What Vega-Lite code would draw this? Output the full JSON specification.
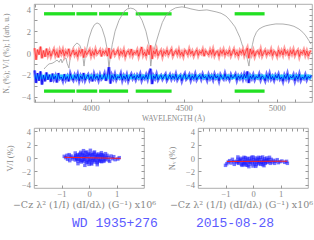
{
  "$schema": "https://vega.github.io/schema/vega-lite/v6.json",
  "padding": {"left": 1, "top": 3, "right": 0, "bottom": 0},
  "bounds": "flush",
  "spacing": 26,
  "config": {
    "view": {"stroke": "#999", "strokeWidth": 0.8},
    "axis": {"labelFont": "Liberation Serif", "titleFont": "Liberation Serif", "labelColor": "#888", "titleColor": "#888", "tickColor": "#999", "domain": false, "grid": false, "labelFontSize": 8.5, "titleFontSize": 7.5, "titleFontWeight": "normal", "labelOverlap": false, "labelFlush": false, "tickSize": -3}
  },
  "datasets": {
    "green": [
      {"a": 3749, "b": 3916, "y": 3.6}, {"a": 3923, "b": 4035, "y": 3.6}, {"a": 4045, "b": 4201, "y": 3.6}, {"a": 4242, "b": 4435, "y": 3.6}, {"a": 4774, "b": 4935, "y": 3.6},
      {"a": 3749, "b": 3916, "y": -3.5}, {"a": 3923, "b": 4035, "y": -3.5}, {"a": 4045, "b": 4201, "y": -3.5}, {"a": 4242, "b": 4435, "y": -3.5}, {"a": 4774, "b": 4935, "y": -3.5}
    ],
    "cyan": [{"w": 3698, "lo": -2.42, "hi": -1.98}, {"w": 5186, "lo": -2.42, "hi": -1.98}],
    "gray": [
      {"w":3749,"i":-1.47},{"w":3760,"i":-1.25},{"w":3776,"i":-1.0},{"w":3792,"i":-0.95},{"w":3803,"i":-0.85},{"w":3819,"i":-0.65},{"w":3830,"i":-0.85},{"w":3840,"i":-0.56},{"w":3846,"i":-0.9},{"w":3856,"i":-0.55},{"w":3867,"i":-0.46},{"w":3873,"i":-0.95},{"w":3883,"i":-1.38},{"w":3888,"i":-0.7},{"w":3899,"i":0.2},{"w":3910,"i":0.65},{"w":3926,"i":0.92},{"w":3942,"i":0.7},{"w":3953,"i":0.1},{"w":3959,"i":-0.5},{"w":3964,"i":-1.2},{"w":3969,"i":-0.5},{"w":3980,"i":0.5},{"w":3991,"i":1.38},{"w":4007,"i":2.2},{"w":4020,"i":2.6},{"w":4034,"i":2.76},{"w":4048,"i":2.65},{"w":4061,"i":2.25},{"w":4077,"i":1.38},{"w":4088,"i":0.4},{"w":4093,"i":-0.4},{"w":4098,"i":-1.38},{"w":4104,"i":-0.5},{"w":4116,"i":0.8},{"w":4131,"i":2.0},{"w":4152,"i":3.0},{"w":4179,"i":3.8},{"w":4197,"i":4.05},{"w":4215,"i":4.12},{"w":4232,"i":4.05},{"w":4249,"i":3.8},{"w":4276,"i":3.0},{"w":4297,"i":2.0},{"w":4313,"i":0.8},{"w":4319,"i":-0.3},{"w":4323,"i":-1.2},{"w":4328,"i":-0.5},{"w":4340,"i":0.2},{"w":4352,"i":1.0},{"w":4367,"i":1.85},{"w":4385,"i":2.8},{"w":4403,"i":3.4},{"w":4430,"i":3.9},{"w":4457,"i":4.15},{"w":4491,"i":4.24},{"w":4518,"i":4.15},{"w":4539,"i":4.05},{"w":4582,"i":3.9},{"w":4625,"i":3.96},{"w":4674,"i":3.78},{"w":4701,"i":3.65},{"w":4727,"i":3.4},{"w":4744,"i":3.1},{"w":4760,"i":2.76},{"w":4776,"i":2.4},{"w":4787,"i":2.0},{"w":4803,"i":1.4},{"w":4813,"i":0.83},{"w":4824,"i":0.3},{"w":4835,"i":-0.1},{"w":4843,"i":-0.6},{"w":4851,"i":-1.2},{"w":4856,"i":-0.5},{"w":4862,"i":0.0},{"w":4870,"i":0.8},{"w":4878,"i":1.4},{"w":4891,"i":1.9},{"w":4905,"i":2.2},{"w":4926,"i":2.4},{"w":4942,"i":2.5},{"w":4969,"i":2.6},{"w":4996,"i":2.67},{"w":5034,"i":2.66},{"w":5066,"i":2.58},{"w":5093,"i":2.45},{"w":5120,"i":2.2},{"w":5141,"i":1.9},{"w":5157,"i":1.57},{"w":5173,"i":1.15},{"w":5184,"i":0.83}
    ],
    "noise": [
      {"w":3698,"v":0.45,"n":-1.6},{"w":3706,"v":-0.62,"n":-2.75},{"w":3714,"v":0.31,"n":-1.85},{"w":3722,"v":-0.15,"n":-2.55},{"w":3730,"v":0.58,"n":-1.7},{"w":3738,"v":-0.48,"n":-2.9},{"w":3746,"v":0.22,"n":-2.05},{"w":3754,"v":-0.35,"n":-2.6},{"w":3762,"v":0.4,"n":-1.8},{"w":3770,"v":-0.2,"n":-2.45},
      {"w":3778,"v":0.18,"n":-2.0},{"w":3786,"v":-0.3,"n":-2.65},{"w":3794,"v":0.05,"n":-1.9},{"w":3802,"v":0.33,"n":-2.4},{"w":3810,"v":-0.22,"n":-2.1},{"w":3818,"v":0.12,"n":-2.7},{"w":3826,"v":-0.4,"n":-1.85},{"w":3834,"v":0.26,"n":-2.35},{"w":3842,"v":-0.08,"n":-2.2},{"w":3850,"v":0.3,"n":-2.55},
      {"w":3858,"v":-0.25,"n":-1.95},{"w":3866,"v":0.15,"n":-2.45},{"w":3874,"v":-0.12,"n":-2.15},{"w":3882,"v":0.38,"n":-2.6},{"w":3890,"v":-0.3,"n":-1.9},{"w":3898,"v":0.02,"n":-2.3},{"w":3906,"v":0.28,"n":-2.5},{"w":3914,"v":-0.18,"n":-2.05},{"w":3922,"v":0.1,"n":-2.35},{"w":3930,"v":-0.33,"n":-1.95},
      {"w":3938,"v":0.24,"n":-2.55},{"w":3946,"v":-0.05,"n":-2.1},{"w":3954,"v":0.35,"n":-2.4},{"w":3962,"v":-0.42,"n":-1.85},{"w":3970,"v":0.2,"n":-2.5},{"w":3978,"v":-0.15,"n":-2.2},{"w":3986,"v":0.08,"n":-2.0},{"w":3994,"v":0.3,"n":-2.45},{"w":4002,"v":-0.26,"n":-2.15},{"w":4010,"v":0.14,"n":-2.6},
      {"w":4018,"v":-0.2,"n":-1.95},{"w":4026,"v":0.32,"n":-2.35},{"w":4034,"v":-0.1,"n":-2.1},{"w":4042,"v":0.05,"n":-2.5},{"w":4050,"v":0.27,"n":-2.0},{"w":4058,"v":-0.31,"n":-2.4},{"w":4066,"v":0.18,"n":-2.25},{"w":4074,"v":-0.06,"n":-1.9},{"w":4082,"v":0.22,"n":-2.55},{"w":4090,"v":-0.28,"n":-2.1},
      {"w":4098,"v":0.45,"n":-1.3},{"w":4106,"v":-0.5,"n":-2.8},{"w":4114,"v":0.12,"n":-2.05},{"w":4122,"v":0.25,"n":-2.35},{"w":4130,"v":-0.18,"n":-1.95},{"w":4138,"v":0.03,"n":-2.45},{"w":4146,"v":0.3,"n":-2.15},{"w":4154,"v":-0.24,"n":-2.3},{"w":4162,"v":0.16,"n":-1.9},{"w":4170,"v":-0.12,"n":-2.5},
      {"w":4178,"v":0.28,"n":-2.1},{"w":4186,"v":-0.34,"n":-2.4},{"w":4194,"v":0.06,"n":-2.0},{"w":4202,"v":0.2,"n":-2.55},{"w":4210,"v":-0.15,"n":-2.2},{"w":4218,"v":0.36,"n":-1.95},{"w":4226,"v":-0.22,"n":-2.35},{"w":4234,"v":0.1,"n":-2.1},{"w":4242,"v":-0.05,"n":-2.45},{"w":4250,"v":0.26,"n":-2.05},
      {"w":4258,"v":-0.3,"n":-2.3},{"w":4266,"v":0.14,"n":-1.95},{"w":4274,"v":0.55,"n":-2.5},{"w":4282,"v":-0.2,"n":-2.15},{"w":4290,"v":0.08,"n":-2.35},{"w":4298,"v":-0.28,"n":-2.0},{"w":4306,"v":0.32,"n":-2.4},{"w":4314,"v":-0.15,"n":-1.85},{"w":4322,"v":0.7,"n":-1.45},{"w":4330,"v":-0.55,"n":-2.85},
      {"w":4338,"v":0.2,"n":-2.1},{"w":4346,"v":-0.1,"n":-2.35},{"w":4354,"v":0.33,"n":-1.95},{"w":4362,"v":-0.25,"n":-2.45},{"w":4370,"v":0.05,"n":-2.2},{"w":4378,"v":0.24,"n":-2.05},{"w":4386,"v":-0.32,"n":-2.4},{"w":4394,"v":0.15,"n":-2.15},{"w":4402,"v":-0.08,"n":-1.95},{"w":4410,"v":0.28,"n":-2.5},
      {"w":4418,"v":-0.18,"n":-2.25},{"w":4426,"v":0.1,"n":-2.0},{"w":4434,"v":0.35,"n":-2.4},{"w":4442,"v":-0.27,"n":-2.1},{"w":4450,"v":0.02,"n":-2.35},{"w":4458,"v":0.22,"n":-1.95},{"w":4466,"v":-0.14,"n":-2.45},{"w":4474,"v":0.3,"n":-2.2},{"w":4482,"v":-0.2,"n":-2.05},{"w":4490,"v":0.08,"n":-2.55},
      {"w":4498,"v":-0.3,"n":-2.15},{"w":4506,"v":0.25,"n":-1.9},{"w":4514,"v":0.12,"n":-2.4},{"w":4522,"v":-0.16,"n":-2.25},{"w":4530,"v":0.34,"n":-2.0},{"w":4538,"v":-0.08,"n":-2.5},{"w":4546,"v":0.18,"n":-2.1},{"w":4554,"v":-0.26,"n":-2.35},{"w":4562,"v":0.06,"n":-1.95},{"w":4570,"v":0.28,"n":-2.45},
      {"w":4578,"v":-0.22,"n":-2.2},{"w":4586,"v":0.14,"n":-2.05},{"w":4594,"v":-0.04,"n":-2.4},{"w":4602,"v":0.31,"n":-1.95},{"w":4610,"v":-0.29,"n":-2.3},{"w":4618,"v":0.2,"n":-2.15},{"w":4626,"v":0.02,"n":-2.5},{"w":4634,"v":-0.18,"n":-2.0},{"w":4642,"v":0.26,"n":-2.35},{"w":4650,"v":-0.12,"n":-2.1},
      {"w":4658,"v":0.33,"n":-2.45},{"w":4666,"v":-0.24,"n":-1.95},{"w":4674,"v":0.08,"n":-2.3},{"w":4682,"v":0.16,"n":-2.1},{"w":4690,"v":-0.3,"n":-2.55},{"w":4698,"v":0.22,"n":-2.0},{"w":4706,"v":-0.06,"n":-2.25},{"w":4714,"v":0.29,"n":-2.4},{"w":4722,"v":-0.2,"n":-1.9},{"w":4730,"v":0.12,"n":-2.35},
      {"w":4738,"v":-0.1,"n":-2.15},{"w":4746,"v":0.27,"n":-2.45},{"w":4754,"v":-0.25,"n":-2.0},{"w":4762,"v":0.05,"n":-2.3},{"w":4770,"v":0.34,"n":-2.2},{"w":4778,"v":-0.17,"n":-1.95},{"w":4786,"v":0.1,"n":-2.5},{"w":4794,"v":-0.28,"n":-2.1},{"w":4802,"v":0.21,"n":-2.35},{"w":4810,"v":-0.03,"n":-2.05},
      {"w":4818,"v":0.3,"n":-2.4},{"w":4826,"v":-0.22,"n":-1.95},{"w":4834,"v":0.15,"n":-2.3},{"w":4842,"v":0.45,"n":-1.7},{"w":4850,"v":-0.48,"n":-2.75},{"w":4858,"v":0.38,"n":-2.1},{"w":4866,"v":-0.12,"n":-2.35},{"w":4874,"v":0.24,"n":-2.0},{"w":4882,"v":-0.3,"n":-2.45},{"w":4890,"v":0.08,"n":-2.15},
      {"w":4898,"v":0.19,"n":-2.3},{"w":4906,"v":-0.15,"n":-1.95},{"w":4914,"v":0.32,"n":-2.45},{"w":4922,"v":-0.26,"n":-2.1},{"w":4930,"v":0.04,"n":-2.25},{"w":4938,"v":0.25,"n":-2.55},{"w":4946,"v":-0.2,"n":-2.0},{"w":4954,"v":0.12,"n":-2.35},{"w":4962,"v":-0.08,"n":-1.9},{"w":4970,"v":0.3,"n":-2.4},
      {"w":4978,"v":-0.24,"n":-2.15},{"w":4986,"v":0.16,"n":-2.5},{"w":4994,"v":0.02,"n":-2.05},{"w":5002,"v":-0.3,"n":-2.3},{"w":5010,"v":0.28,"n":-1.95},{"w":5018,"v":-0.12,"n":-2.4},{"w":5026,"v":0.2,"n":-2.2},{"w":5034,"v":-0.18,"n":-2.6},{"w":5042,"v":0.35,"n":-2.05},{"w":5050,"v":-0.06,"n":-2.35},
      {"w":5058,"v":0.14,"n":-1.9},{"w":5066,"v":-0.27,"n":-2.45},{"w":5074,"v":0.23,"n":-2.15},{"w":5082,"v":-0.1,"n":-2.3},{"w":5090,"v":0.3,"n":-2.0},{"w":5098,"v":-0.22,"n":-2.55},{"w":5106,"v":0.08,"n":-2.1},{"w":5114,"v":0.26,"n":-2.4},{"w":5122,"v":-0.32,"n":-1.95},{"w":5130,"v":0.12,"n":-2.5},
      {"w":5138,"v":-0.05,"n":-2.2},{"w":5146,"v":0.28,"n":-2.35},{"w":5154,"v":-0.2,"n":-2.0},{"w":5162,"v":0.18,"n":-2.45},{"w":5170,"v":-0.26,"n":-2.15},{"w":5178,"v":0.1,"n":-2.3},{"w":5186,"v":0.22,"n":-2.05}
    ],
    "ptsL": [
      {"x":-0.55,"y":0.1},{"x":-0.5,"y":-0.3},{"x":-0.48,"y":0.35},{"x":-0.45,"y":-0.05},{"x":-0.42,"y":0.5},{"x":-0.4,"y":-0.45},{"x":-0.38,"y":0.2},{"x":-0.35,"y":-0.2},{"x":-0.33,"y":0.6},{"x":-0.3,"y":0.0},{"x":-0.28,"y":-0.6},{"x":-0.26,"y":0.3},{"x":-0.24,"y":-0.35},{"x":-0.22,"y":0.7},{"x":-0.2,"y":0.1},{"x":-0.18,"y":-0.5},{"x":-0.16,"y":0.4},{"x":-0.14,"y":-0.15},{"x":-0.12,"y":0.8},{"x":-0.1,"y":-0.7},{"x":-0.08,"y":0.25},{"x":-0.06,"y":-0.3},{"x":-0.04,"y":0.55},{"x":-0.02,"y":0.0},{"x":0.0,"y":-0.55},{"x":0.02,"y":0.35},{"x":0.04,"y":-0.2},{"x":0.06,"y":0.65},{"x":0.08,"y":-0.75},{"x":0.1,"y":0.15},{"x":0.12,"y":-0.4},{"x":0.14,"y":0.5},{"x":0.16,"y":-0.1},{"x":0.18,"y":0.75},{"x":0.2,"y":-0.6},{"x":0.22,"y":0.3},{"x":0.24,"y":-0.3},{"x":0.26,"y":0.55},{"x":0.28,"y":0.0},{"x":0.3,"y":-0.5},{"x":0.32,"y":0.4},{"x":0.34,"y":-0.15},{"x":0.36,"y":0.6},{"x":0.38,"y":-0.4},{"x":0.4,"y":0.2},{"x":0.42,"y":-0.25},{"x":0.44,"y":0.45},{"x":0.46,"y":-0.55},{"x":0.48,"y":0.1},{"x":0.5,"y":-0.1},{"x":0.52,"y":0.35},{"x":0.55,"y":-0.35},{"x":0.58,"y":0.2},{"x":0.6,"y":-0.2},{"x":0.62,"y":0.05},
      {"x":-0.5,"y":0.25},{"x":-0.44,"y":-0.2},{"x":-0.36,"y":0.4},{"x":-0.3,"y":-0.4},{"x":-0.24,"y":0.5},{"x":-0.18,"y":-0.2},{"x":-0.12,"y":0.3},{"x":-0.06,"y":-0.6},{"x":0.0,"y":0.6},{"x":0.06,"y":-0.35},{"x":0.12,"y":0.45},{"x":0.18,"y":-0.3},{"x":0.24,"y":0.2},{"x":0.3,"y":-0.7},{"x":0.36,"y":0.3},{"x":0.42,"y":-0.5},{"x":0.48,"y":0.5},{"x":0.54,"y":-0.5},{"x":-0.6,"y":-0.15},{"x":-0.65,"y":0.3},{"x":-0.08,"y":0.9},{"x":0.1,"y":-0.9},{"x":-0.3,"y":0.85},{"x":0.2,"y":0.9},{"x":0.0,"y":-0.95},
      {"x":-0.9,"y":0.25},{"x":-0.85,"y":0.05},{"x":-0.8,"y":0.4},{"x":-0.78,"y":-0.2},{"x":-0.72,"y":0.5},{"x":-0.7,"y":-0.4},{"x":-0.68,"y":0.1},{"x":0.66,"y":0.4},{"x":0.7,"y":-0.3},{"x":0.72,"y":0.1},{"x":0.75,"y":-0.5},{"x":0.8,"y":0.3},{"x":0.85,"y":-0.1},{"x":0.9,"y":0.2},{"x":0.95,"y":-0.25},{"x":1.1,"y":0.05},{"x":1.05,"y":-0.15},{"x":-0.2,"y":1.1},{"x":0.05,"y":1.15},{"x":0.3,"y":-1.0},{"x":-0.4,"y":-0.85},{"x":0.45,"y":0.8},{"x":-0.5,"y":0.75},{"x":0.6,"y":0.65},{"x":-0.15,"y":-1.1}
    ],
    "ptsR": [
      {"x":-0.6,"y":-0.5},{"x":-0.55,"y":-0.2},{"x":-0.52,"y":-0.8},{"x":-0.48,"y":-0.35},{"x":-0.45,"y":-0.05},{"x":-0.42,"y":-0.95},{"x":-0.38,"y":-0.6},{"x":-0.35,"y":-0.15},{"x":-0.32,"y":-1.0},{"x":-0.3,"y":-0.45},{"x":-0.27,"y":0.05},{"x":-0.24,"y":-0.75},{"x":-0.22,"y":-0.3},{"x":-0.19,"y":-1.1},{"x":-0.16,"y":-0.55},{"x":-0.13,"y":-0.05},{"x":-0.1,"y":-0.9},{"x":-0.08,"y":-0.4},{"x":-0.05,"y":0.1},{"x":-0.02,"y":-0.7},{"x":0.0,"y":-1.2},{"x":0.03,"y":-0.25},{"x":0.06,"y":-0.6},{"x":0.09,"y":0.0},{"x":0.12,"y":-1.0},{"x":0.15,"y":-0.45},{"x":0.18,"y":-0.15},{"x":0.21,"y":-0.85},{"x":0.24,"y":-0.5},{"x":0.27,"y":0.05},{"x":0.3,"y":-0.7},{"x":0.33,"y":-0.3},{"x":0.36,"y":-1.0},{"x":0.39,"y":-0.55},{"x":0.42,"y":-0.1},{"x":0.45,"y":-0.8},{"x":0.48,"y":-0.4},{"x":0.5,"y":0.0},{"x":0.53,"y":-0.65},{"x":0.56,"y":-0.25},{"x":0.6,"y":-0.5},{"x":0.63,"y":-0.8},{"x":0.66,"y":-0.2},
      {"x":-0.58,"y":-0.7},{"x":-0.5,"y":-0.55},{"x":-0.44,"y":-0.3},{"x":-0.36,"y":-0.8},{"x":-0.28,"y":-0.6},{"x":-0.2,"y":-0.1},{"x":-0.12,"y":-0.65},{"x":-0.04,"y":-0.35},{"x":0.04,"y":-0.9},{"x":0.1,"y":-0.35},{"x":0.16,"y":-0.7},{"x":0.22,"y":-0.25},{"x":0.28,"y":-0.95},{"x":0.34,"y":-0.6},{"x":0.4,"y":-0.35},{"x":0.46,"y":-0.6},{"x":0.52,"y":-0.3},{"x":-0.25,"y":-1.05},{"x":0.0,"y":0.15},{"x":0.2,"y":0.1},{"x":-0.4,"y":-1.1},{"x":0.1,"y":-1.25},{"x":-0.15,"y":-1.3},{"x":0.35,"y":0.15},{"x":-0.33,"y":0.1},
      {"x":-0.95,"y":-0.85},{"x":-0.9,"y":-0.6},{"x":-0.85,"y":-0.4},{"x":-0.8,"y":-0.75},{"x":-0.75,"y":-0.2},{"x":-0.7,"y":-0.55},{"x":-0.68,"y":-0.95},{"x":0.7,"y":-0.6},{"x":0.74,"y":-0.35},{"x":0.78,"y":-0.8},{"x":0.82,"y":-0.5},{"x":0.88,"y":-0.25},{"x":0.92,"y":-0.7},{"x":0.98,"y":-0.55},{"x":1.05,"y":-0.45},{"x":1.15,"y":-0.65},{"x":1.22,"y":-0.5},{"x":1.25,"y":-0.8},{"x":-1.0,"y":-1.1},{"x":0.6,"y":0.1},{"x":-0.55,"y":0.15},{"x":0.4,"y":-1.15}
    ],
    "fitL": [{"x": -0.9, "y": 0.1}, {"x": 1.15, "y": -0.05}],
    "fitR": [{"x": -0.95, "y": -0.52}, {"x": 1.25, "y": -0.48}]
  },
  "vconcat": [
    {
      "width": 278,
      "height": 98,
      "layer": [
        {
          "data": {"name": "green"},
          "mark": {"type": "rule", "color": "#22e022", "strokeWidth": 3.3},
          "encoding": {
            "x": {"field": "a", "type": "quantitative", "scale": {"domain": [3695, 5190], "nice": false, "zero": false},
              "axis": {"orient": "bottom", "values": [3700,3800,3900,4000,4100,4200,4300,4400,4500,4600,4700,4800,4900,5000,5100], "format": "d", "labelExpr": "datum.value % 500 === 0 ? datum.label : ''", "labelPadding": 4, "title": "WAVELENGTH (Å)", "titleY": 16, "titleBaseline": "middle"}},
            "x2": {"field": "b"},
            "y": {"field": "y", "type": "quantitative", "scale": {"domain": [-4.5, 4.5], "nice": false},
              "axis": {"orient": "left", "values": [-4,-3.5,-3,-2.5,-2,-1.5,-1,-0.5,0,0.5,1,1.5,2,2.5,3,3.5,4], "format": "d", "labelExpr": "datum.value % 2 === 0 ? datum.label : ''", "labelPadding": 6.5, "title": "Nᵥ (%); V/I (%); I (arb. u.)", "titleX": -28, "titleBaseline": "middle"}}
          }
        },
        {
          "data": {"name": "gray"},
          "mark": {"type": "line", "color": "#9a9a9a", "strokeWidth": 0.8},
          "encoding": {
            "x": {"field": "w", "type": "quantitative", "axis": {"orient": "top", "values": [3700,3800,3900,4000,4100,4200,4300,4400,4500,4600,4700,4800,4900,5000,5100], "labels": false, "title": null}},
            "y": {"field": "i", "type": "quantitative", "axis": {"orient": "right", "values": [-4,-3.5,-3,-2.5,-2,-1.5,-1,-0.5,0,0.5,1,1.5,2,2.5,3,3.5,4], "labels": false, "title": null}}
          }
        },
        {
          "data": {"name": "noise"},
          "mark": {"type": "line", "color": "#ffa0a0", "strokeWidth": 3},
          "encoding": {"x": {"field": "w", "type": "quantitative", "axis": null}, "y": {"field": "v", "type": "quantitative", "axis": null}}
        },
        {
          "data": {"name": "noise"},
          "mark": {"type": "line", "color": "#ff2020", "strokeWidth": 0.7},
          "encoding": {"x": {"field": "w", "type": "quantitative", "axis": null}, "y": {"field": "v", "type": "quantitative", "axis": null}}
        },
        {
          "data": {"name": "noise"},
          "mark": {"type": "line", "color": "#7070ff", "strokeWidth": 3},
          "encoding": {"x": {"field": "w", "type": "quantitative", "axis": null}, "y": {"field": "n", "type": "quantitative", "axis": null}}
        },
        {
          "data": {"name": "cyan"},
          "mark": {"type": "area", "color": "#00e0ff", "opacity": 0.7},
          "encoding": {"x": {"field": "w", "type": "quantitative", "axis": null}, "y": {"field": "lo", "type": "quantitative", "axis": null}, "y2": {"field": "hi"}}
        },
        {
          "data": {"name": "noise"},
          "mark": {"type": "line", "color": "#0000f0", "strokeWidth": 0.8},
          "encoding": {"x": {"field": "w", "type": "quantitative", "axis": null}, "y": {"field": "n", "type": "quantitative", "axis": null}}
        }
      ]
    },
    {
      "hconcat": [
        {
          "width": 110,
          "height": 60,
          "title": {"text": "WD 1935+276", "orient": "bottom", "anchor": "start", "frame": "group", "dx": 38, "offset": 8, "font": "Liberation Mono", "fontSize": 13, "color": "#5b5bff", "fontWeight": "normal"},
          "layer": [
            {
              "data": {"name": "ptsL"},
              "mark": {"type": "point", "shape": "square", "filled": true, "color": "#1a1aff", "opacity": 0.6, "size": 12},
              "encoding": {
                "x": {"field": "x", "type": "quantitative", "scale": {"domain": [-2, 2], "nice": false},
                  "axis": {"orient": "bottom", "values": [-1, 0, 1], "format": "d", "labelPadding": 4, "title": "−Cz λ² (1/I) (dI/dλ) (G⁻¹) x10⁶", "titleFont": "DejaVu Serif", "titleX": 50, "titleY": 16.5, "titleBaseline": "middle", "titleFontSize": 9.5}},
                "y": {"field": "y", "type": "quantitative", "scale": {"domain": [-4.5, 4.5], "nice": false},
                  "axis": {"orient": "left", "values": [-4, -2, 0, 2, 4], "format": "d", "labelPadding": 6.5, "title": "V/I (%)", "titleX": -25, "titleBaseline": "middle", "titleFontSize": 8.5}}
              }
            },
            {
              "data": {"name": "fitL"},
              "mark": {"type": "line", "color": "#ff2020", "strokeWidth": 1},
              "encoding": {
                "x": {"field": "x", "type": "quantitative", "axis": {"orient": "top", "values": [-1.8,-1.6,-1.4,-1.2,-1,-0.8,-0.6,-0.4,-0.2,0,0.2,0.4,0.6,0.8,1,1.2,1.4,1.6,1.8], "labels": false, "title": null}},
                "y": {"field": "y", "type": "quantitative", "axis": {"orient": "right", "values": [-4,-3,-2,-1,0,1,2,3,4], "labels": false, "title": null}}
              }
            }
          ]
        },
        {
          "width": 110,
          "height": 60,
          "title": {"text": "2015-08-28", "orient": "bottom", "anchor": "start", "frame": "group", "dx": -2, "offset": 8, "font": "Liberation Mono", "fontSize": 13, "color": "#5b5bff", "fontWeight": "normal"},
          "layer": [
            {
              "data": {"name": "ptsR"},
              "mark": {"type": "point", "shape": "square", "filled": true, "color": "#1a1aff", "opacity": 0.6, "size": 12},
              "encoding": {
                "x": {"field": "x", "type": "quantitative", "scale": {"domain": [-2, 2], "nice": false},
                  "axis": {"orient": "bottom", "values": [-1, 0, 1], "format": "d", "labelPadding": 4, "title": "−Cz λ² (1/I) (dI/dλ) (G⁻¹) x10⁶", "titleFont": "DejaVu Serif", "titleX": 43, "titleY": 16.5, "titleBaseline": "middle", "titleFontSize": 9.5}},
                "y": {"field": "y", "type": "quantitative", "scale": {"domain": [-4.5, 4.5], "nice": false},
                  "axis": {"orient": "left", "values": [-4, -2, 0, 2, 4], "format": "d", "labelPadding": 6.5, "title": "Nᵥ (%)", "titleX": -27, "titleBaseline": "middle", "titleFontSize": 8.5}}
              }
            },
            {
              "data": {"name": "fitR"},
              "mark": {"type": "line", "color": "#ff2020", "strokeWidth": 1},
              "encoding": {
                "x": {"field": "x", "type": "quantitative", "axis": {"orient": "top", "values": [-1.8,-1.6,-1.4,-1.2,-1,-0.8,-0.6,-0.4,-0.2,0,0.2,0.4,0.6,0.8,1,1.2,1.4,1.6,1.8], "labels": false, "title": null}},
                "y": {"field": "y", "type": "quantitative", "axis": {"orient": "right", "values": [-4,-3,-2,-1,0,1,2,3,4], "labels": false, "title": null}}
              }
            }
          ]
        }
      ],
      "spacing": 54,
      "bounds": "flush"
    }
  ]
}
